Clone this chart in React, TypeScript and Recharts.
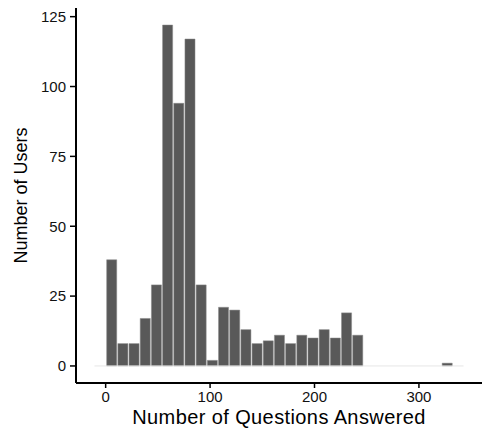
import { ComposedChart, Bar, XAxis, YAxis, ReferenceLine, Label } from 'recharts';

// histogram bin centres (number of questions) and user counts
const binCenters = [
  -5.36, 5.36, 16.07, 26.78, 37.49, 48.2, 58.91, 69.62, 80.33, 91.04, 101.75,
  112.46, 123.17, 133.88, 144.59, 155.3, 166.01, 176.72, 187.43, 198.14, 208.85,
  219.56, 230.27, 240.98, 251.69, 262.4, 273.11, 283.82, 294.53, 305.24, 315.95,
  326.66, 337.37,
];
const userCounts = [
  0, 38, 8, 8, 17, 29, 122, 94, 117, 29, 2,
  21, 20, 13, 8, 9, 11, 8, 11, 10, 13,
  10, 19, 11, 0, 0, 0, 0, 0, 0, 0,
  1, 0,
];
const binWidth = 10.71;
const xTicks = [0, 100, 200, 300];
const yTicks = [0, 25, 50, 75, 100, 125];

const xDomain: [number, number] = [-28.4, 360.4];
const yDomain: [number, number] = [-6.1, 128.1];

const WIDTH = 491;
const HEIGHT = 436;
const MARGIN = { top: 8, right: 9, bottom: 0, left: 0 };
const Y_AXIS_WIDTH = 76;

const data = binCenters.map((x, i) => ({ x, count: userCounts[i] }));

// bar width in pixels follows the x scale so adjacent bins touch
const plotWidth = WIDTH - MARGIN.left - MARGIN.right - Y_AXIS_WIDTH;
const barPx = (binWidth / (xDomain[1] - xDomain[0])) * plotWidth;

const font = 'Liberation Sans, Arial, Helvetica, sans-serif';

export default function App() {
  return (
    <div style={{ position: 'absolute', left: 0, top: 0, background: '#fff' }}>
      <ComposedChart width={WIDTH} height={HEIGHT} data={data} margin={MARGIN}>
        <XAxis
          dataKey="x"
          type="number"
          domain={xDomain}
          ticks={xTicks}
          allowDataOverflow
          height={53}
          tickSize={5}
          tickMargin={3}
          axisLine={{ stroke: '#000', strokeWidth: 2 }}
          tickLine={{ stroke: '#000', strokeWidth: 1.5 }}
          tick={{ fill: '#111', fontSize: 15, fontFamily: font }}
        >
          <Label
            value="Number of Questions Answered"
            position="insideBottom"
            offset={12}
            style={{ fill: '#000', fontSize: 20, letterSpacing: 0.4, fontFamily: font }}
          />
        </XAxis>
        <YAxis
          type="number"
          domain={yDomain}
          ticks={yTicks}
          allowDataOverflow
          width={Y_AXIS_WIDTH}
          tickSize={6}
          tickMargin={4}
          axisLine={{ stroke: '#000', strokeWidth: 2 }}
          tickLine={{ stroke: '#000', strokeWidth: 1.5 }}
          tick={{ fill: '#111', fontSize: 15, fontFamily: font }}
        >
          <Label
            value="Number of Users"
            angle={-90}
            position="insideLeft"
            offset={21}
            style={{ textAnchor: 'middle', fill: '#000', fontSize: 18, fontFamily: font }}
          />
        </YAxis>
        <ReferenceLine
          segment={[
            { x: binCenters[0] - binWidth / 2, y: 0 },
            { x: binCenters[binCenters.length - 1] + binWidth / 2, y: 0 },
          ]}
          stroke="#e6e6e6"
          strokeWidth={1}
        />
        <Bar
          dataKey="count"
          barSize={barPx}
          fill="#595959"
          stroke="#8a8a8a"
          strokeWidth={0.5}
          isAnimationActive={false}
        />
      </ComposedChart>
    </div>
  );
}
